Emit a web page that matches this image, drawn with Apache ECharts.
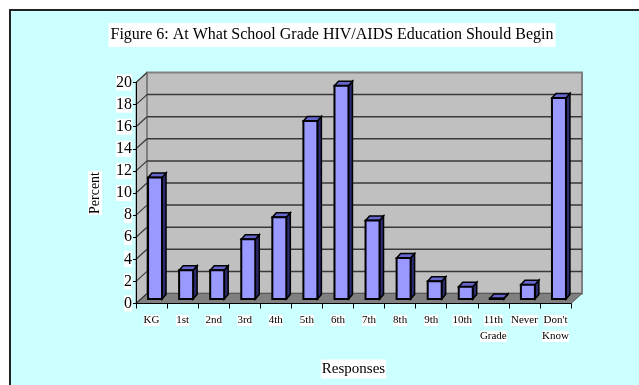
<!DOCTYPE html>
<html><head><meta charset="utf-8">
<script src="https://cdn.jsdelivr.net/npm/echarts@6/dist/echarts.min.js"></script>
<style>html,body{margin:0;padding:0;background:#fff}#c{width:639px;height:385px}</style>
</head><body><div id="c"></div>
<script>
const categories = ['KG','1st','2nd','3rd','4th','5th','6th','7th','8th','9th','10th','11th\nGrade','Never',"Don't\nKnow"];
const percentValues = [11.0,2.6,2.6,5.4,7.4,16.1,19.3,7.1,3.7,1.6,1.1,0.05,1.3,18.2];
const tickValues = [0,2,4,6,8,10,12,14,16,18,20];
const titleText = 'Figure 6: At What School Grade HIV/AIDS Education Should Begin';
const xAxisName = 'Responses';
const yAxisName = 'Percent';

const DX = 11, DY = -10;
const FONT = '"Liberation Serif","Times New Roman",serif';
const YMAX = tickValues[tickValues.length - 1];

const chart = echarts.init(document.getElementById('c'), null, {renderer: 'canvas'});

function frameRender(params, api) {
  const n = categories.length;
  const band = api.size([1, 0])[0];
  const x0 = api.coord([0, 0])[0] - band / 2;
  const x1 = api.coord([n - 1, 0])[0] + band / 2;
  const yB = api.coord([0, 0])[1];
  const yT = api.coord([0, YMAX])[1];
  const children = [];
  children.push({type: 'polygon', shape: {points: [[x0, yB], [x0, yT], [x0 + DX, yT + DY], [x0 + DX, yB + DY]]},
    style: {fill: '#C0C0C0', stroke: '#808080', lineWidth: 1}});
  children.push({type: 'rect', shape: {x: x0 + DX, y: yT + DY, width: x1 - x0, height: yB - yT},
    style: {fill: '#C0C0C0', stroke: '#808080', lineWidth: 2}});
  children.push({type: 'polygon', shape: {points: [[x0, yB], [x1, yB], [x1 + DX, yB + DY], [x0 + DX, yB + DY]]},
    style: {fill: '#808080', stroke: '#5a5a5a', lineWidth: 1}});
  tickValues.forEach(function (v) {
    const y = api.coord([0, v])[1];
    if (v > 0 && v < YMAX) {
      children.push({type: 'line', shape: {x1: x0 + DX, y1: y + DY, x2: x1 + DX, y2: y + DY},
        style: {stroke: '#383838', lineWidth: 1.5}});
    }
    children.push({type: 'line', shape: {x1: x0, y1: y, x2: x0 + DX, y2: y + DY},
      style: {stroke: '#383838', lineWidth: 1.2}});
  });
  return {type: 'group', children: children};
}

function barRender(params, api) {
  const i = api.value(0), v = api.value(1);
  const base = api.coord([i, 0]);
  const top = api.coord([i, v]);
  const band = api.size([1, 0])[0];
  const w = band * 0.45;
  const sx = 3.5, sy = -4.5, dx = 4, dy = -4.5;
  const xl = base[0] + sx - w / 2, xr = xl + w;
  const yb = base[1] + sy, yt = top[1] + sy;
  return {type: 'group', children: [
    {type: 'polygon', shape: {points: [[xr, yb], [xr + dx, yb + dy], [xr + dx, yt + dy], [xr, yt]]},
      style: {fill: '#2c2c70', stroke: '#000', lineWidth: 1.5}},
    {type: 'polygon', shape: {points: [[xl, yt], [xr, yt], [xr + dx, yt + dy], [xl + dx, yt + dy]]},
      style: {fill: '#6666CC', stroke: '#000', lineWidth: 1.5}},
    {type: 'rect', shape: {x: xl, y: yt, width: w, height: yb - yt},
      style: {fill: '#9999FF', stroke: '#000', lineWidth: 2}}
  ]};
}

chart.setOption({
  backgroundColor: '#ffffff',
  animation: false,
  graphic: [{type: 'rect', z: -100, shape: {x: 10, y: 10, width: 660, height: 400},
    style: {fill: '#CCFFFF', stroke: '#222', lineWidth: 2}}],
  title: {text: titleText, left: 330, top: 23, textAlign: 'center', padding: [4, 2],
    backgroundColor: '#fff',
    textStyle: {fontFamily: FONT, fontSize: 16, fontWeight: 'normal', color: '#000'}},
  grid: {left: 136, right: 68, top: 82.5, bottom: 81.5},
  xAxis: {
    type: 'category', data: categories, z: 5,
    name: xAxisName, nameLocation: 'middle', nameGap: 56,
    nameTextStyle: {fontFamily: FONT, fontSize: 15, color: '#000', backgroundColor: '#fff', padding: [2, 1]},
    axisLine: {lineStyle: {color: '#000', width: 1}},
    axisTick: {show: true, length: 5, lineStyle: {color: '#000'}},
    axisLabel: {interval: 0, margin: 9,
      formatter: function (s) { return s.split('\n').map(function (p) { return '{a|' + p + '}'; }).join('\n'); },
      rich: {a: {fontFamily: FONT, fontSize: 11, lineHeight: 16, color: '#000', backgroundColor: '#fff'}}},
    splitLine: {show: false}
  },
  yAxis: {
    type: 'value', min: 0, max: YMAX, interval: 2, z: 5,
    name: yAxisName, nameLocation: 'middle', nameGap: 34, nameRotate: 90,
    nameTextStyle: {fontFamily: FONT, fontSize: 14, color: '#000', backgroundColor: '#fff', padding: [0, 1]},
    axisLine: {show: true, lineStyle: {color: '#000', width: 1}},
    axisTick: {show: true, length: 3, lineStyle: {color: '#000'}},
    axisLabel: {margin: 4, fontFamily: FONT, fontSize: 16, color: '#000', backgroundColor: '#fff'},
    splitLine: {show: false}
  },
  series: [
    {type: 'custom', name: 'frame', z: 1, silent: true, renderItem: frameRender, data: [[0, 0]],
      encode: {x: 0, y: 1}, clip: false},
    {type: 'custom', name: 'Percent', z: 3, renderItem: barRender,
      data: percentValues.map(function (v, i) { return [i, v]; }), encode: {x: 0, y: 1}, clip: false}
  ]
});
</script></body></html>
